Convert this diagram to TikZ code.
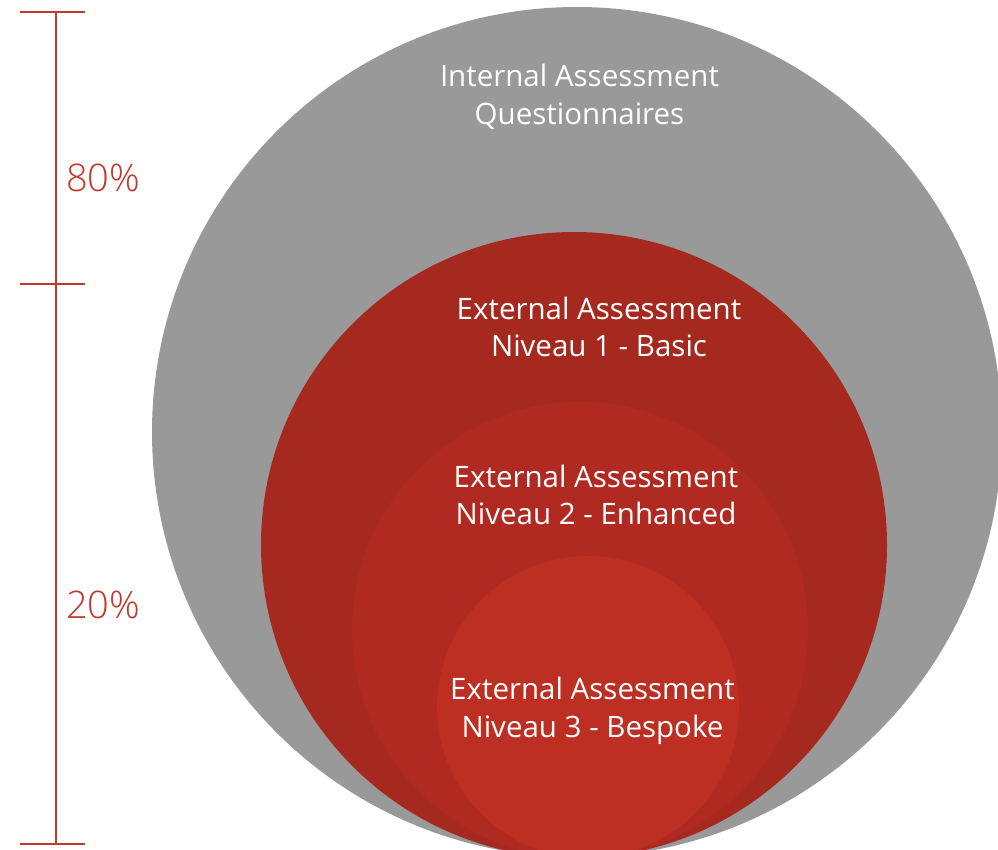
\documentclass[tikz,border=0pt]{standalone}
\usepackage{fontspec}
\setmainfont{Open Sans}
\IfFontExistsTF{Open Sans Light}{\newfontfamily\pctfont{Open Sans Light}}{\newfontfamily\pctfont{Open Sans}}
\usepackage{xcolor}
\definecolor{ringgray}{HTML}{999999}
\definecolor{ringone}{HTML}{A5291F}
\definecolor{ringtwo}{HTML}{B02A21}
\definecolor{ringthree}{HTML}{BD2E23}
\definecolor{barred}{HTML}{C0392B}

\begin{document}
\begin{tikzpicture}[x=1pt,y=-1pt]
\tikzset{ring/.style={circle,inner sep=0pt,draw=none}}
\tikzstyle{lbl}=[text=white,font=\fontsize{29.5}{37.5}\selectfont,align=center]
\tikzstyle{pct}=[text=barred,font=\pctfont\fontsize{38}{40}\selectfont,anchor=base west,inner sep=0pt]
\tikzstyle{bar}=[barred,line width=2pt]
\useasboundingbox (0,0) rectangle (998,850);
\begin{scope}
\clip (0,0) rectangle (998,850);
% circles
\node[ring,fill=ringgray,minimum size=850pt](c0) at (577,432){};
\node[ring,fill=ringone,minimum size=626pt](c1) at (574,545){};
\node[ring,fill=ringtwo,minimum size=456pt](c2) at (580,630){};
\node[ring,fill=ringthree,minimum size=302pt](c3) at (588,707){};
\end{scope}
% labels
\node[lbl](t0) at (579.5,97){Internal Assessment\\Questionnaires};
\node[lbl](t1) at (599,327){External Assessment\\Niveau 1 - Basic};
\node[lbl](t2) at (596,495){External Assessment\\Niveau 2 - Enhanced};
\node[lbl](t3) at (592.5,711){External Assessment\\Niveau 3 - Bespoke};
% scale bar
\coordinate (btop) at (55.5,12);
\coordinate (bmid) at (55.5,284);
\coordinate (bbot) at (55.5,843);
\coordinate (ttl) at (20,12);
\coordinate (ttr) at (85,12);
\coordinate (mtl) at (20,284);
\coordinate (mtr) at (85,284);
\coordinate (btl) at (20,844);
\coordinate (btr) at (85,844);
\draw[bar] (btop) -- (bmid) -- (bbot);
\draw[bar] (ttl) -- (ttr);
\draw[bar] (mtl) -- (mtr);
\draw[bar] (btl) -- (btr);
\node[pct](p80) at (66,192){80\%};
\node[pct](p20) at (66,618){20\%};
\end{tikzpicture}
\end{document}
